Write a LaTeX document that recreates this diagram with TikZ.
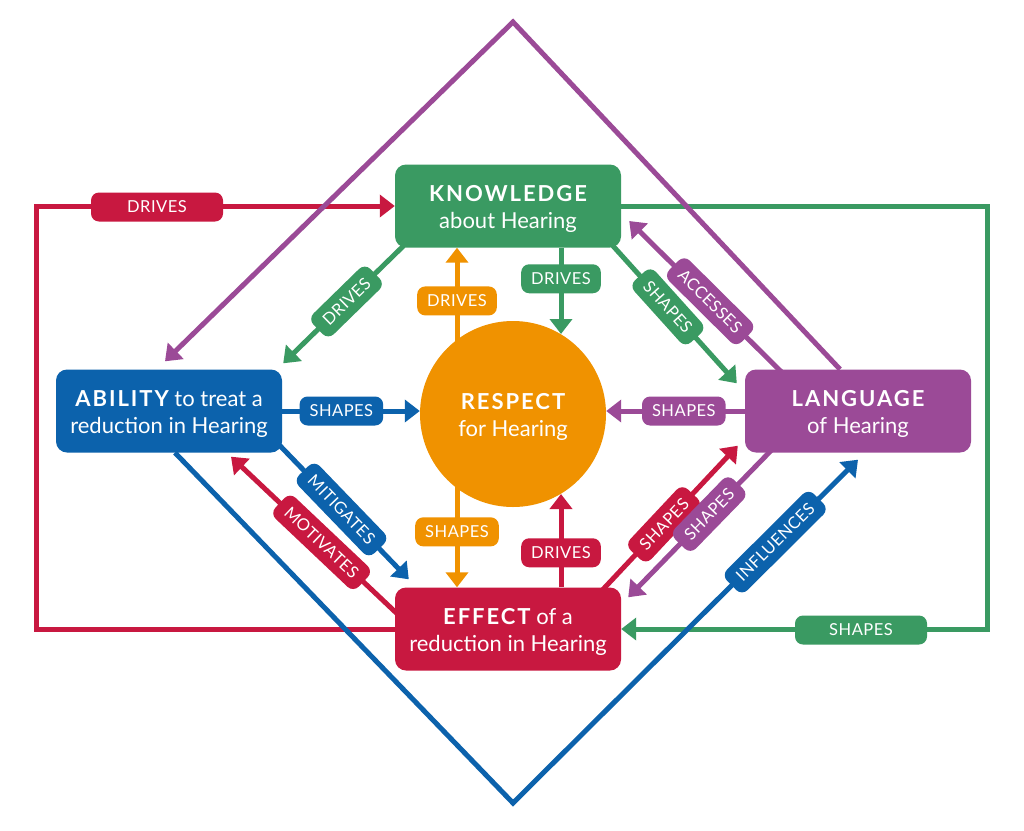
\documentclass[tikz,border=0pt]{standalone}
\usepackage{fontspec}
\setmainfont{Lato}
\usetikzlibrary{arrows.meta,backgrounds,calc}
\definecolor{cgreen}{RGB}{58,154,98}
\definecolor{cblue}{RGB}{12,98,172}
\definecolor{cpurple}{RGB}{155,74,151}
\definecolor{cred}{RGB}{200,24,64}
\definecolor{corange}{RGB}{240,146,0}
\newcommand\headbf[1]{{\bfseries\addfontfeatures{LetterSpace=9}#1}}
\begin{document}
\begin{tikzpicture}[x=1pt,y=-1pt,
  box/.style={rounded corners=11pt, minimum width=226pt, minimum height=83pt, text=white, align=center, font=\fontsize{22}{27}\selectfont, inner sep=0pt, text height=49pt},
  conn/.style={line width=5pt, -{Triangle[width=22pt,length=15pt]}},
  pill/.style={rounded corners=8pt, text=white, font=\fontsize{16.5}{16.5}\selectfont\addfontfeatures{LetterSpace=3}, inner xsep=10pt, inner ysep=0pt, minimum height=29pt},
]
\useasboundingbox (0,0) rectangle (1024,830);
% boxes
\node[box, fill=cgreen] (know) at (508,206) {\headbf{KNOWLEDGE}\\about Hearing};
\node[box, fill=cblue] (abil) at (169,411) {\headbf{ABILITY} to treat a\\reduction in Hearing};
\node[box, fill=cpurple] (lang) at (858,411) {\headbf{LANGUAGE}\\of Hearing};
\node[box, fill=cred] (eff) at (508,629) {\headbf{EFFECT} of a\\reduction in Hearing};
\node[circle, fill=corange, minimum size=186pt, inner sep=0pt, text=white, align=center, font=\fontsize{22}{27}\selectfont, text height=49pt] (resp) at (513,414) {\headbf{RESPECT}\\for Hearing};
\begin{scope}[on background layer]
\fill[white] (0,0) rectangle (1024,830);
% outer loops
\coordinate (rl) at (36,629);
\coordinate (gr) at (987,206);
\draw[conn, cred] (eff.west) -- (rl) |- (know.west);
\node[pill, fill=cred, minimum width=132pt] (pdr) at (157,207) {DRIVES};
\draw[conn, cgreen] (know.east) -- (gr) |- (eff.east);
\node[pill, fill=cgreen, minimum width=132pt] (psh) at (861,630) {SHAPES};
% diamond
\coordinate (dtop) at (513,22);
\coordinate (dbot) at (513,803);
\draw[conn, cblue] ([xshift=6pt]abil.south) -- (dbot) -- node[pill, fill=cblue, sloped, pos=0.76] {INFLUENCES} ([shift={(0,7)}]lang.south);
\draw[conn, cpurple] ([xshift=-18pt]lang.north) -- (dtop) -- ([shift={(-4,-8)}]abil.north);
% inner connectors
\draw[conn, corange] ([xshift=-56pt]resp.center) -- node[pill, fill=corange, pos=0.68] {DRIVES} ([xshift=-51pt]know.south);
\draw[conn, corange] ([xshift=-56pt]resp.center) -- node[pill, fill=corange, pos=0.68] {SHAPES} ([xshift=-51pt]eff.north);
\draw[conn, cgreen] ([xshift=53pt]know.south) -- node[pill, fill=cgreen, pos=0.36] {DRIVES} ([shift={(48,-80)}]resp.center);
\draw[conn, cred] ([xshift=53pt]eff.north) -- node[pill, fill=cred, pos=0.37] {DRIVES} ([shift={(48,80)}]resp.center);
\draw[conn, cgreen] ([shift={(15,-8)}]know.south west) -- node[pill, fill=cgreen, sloped, pos=0.5] {DRIVES} ([shift={(1,-6)}]abil.north east);
\draw[conn, cgreen] ([shift={(-12,-6)}]know.south east) -- node[pill, fill=cgreen, sloped, pos=0.46] {SHAPES} ([shift={(-8,14)}]lang.north west);
\draw[conn, cpurple] ([shift={(40,6)}]lang.north west) -- node[pill, fill=cpurple, sloped, pos=0.48] {ACCESSES} ([shift={(8,15)}]know.east);
\draw[conn, cblue] (abil.east) -- node[pill, fill=cblue, pos=0.43] {SHAPES} (abil.east -| resp.west);
\draw[conn, cpurple] (lang.west) -- node[pill, fill=cpurple, pos=0.44] {SHAPES} (lang.west -| resp.east);
\draw[conn, cblue] ([shift={(-8,-13)}]abil.south east) -- node[pill, fill=cblue, sloped, pos=0.5] {MITIGATES} ([shift={(14,-8)}]eff.north west);
\draw[conn, cred] ([shift={(4,28)}]eff.north west) -- node[pill, fill=cred, sloped, pos=0.46] {MOTIVATES} ([shift={(62,4)}]abil.south);
\draw[conn, cred] ([shift={(-20,4)}]eff.north east) -- node[pill, fill=cred, sloped, pos=0.46] {SHAPES} ([shift={(-7,-7)}]lang.south west);
\draw[conn, cpurple] ([shift={(28,-4)}]lang.south west) -- node[pill, fill=cpurple, sloped, pos=0.44] {SHAPES} ([shift={(7,10)}]eff.north east);
\end{scope}
\end{tikzpicture}
\end{document}
